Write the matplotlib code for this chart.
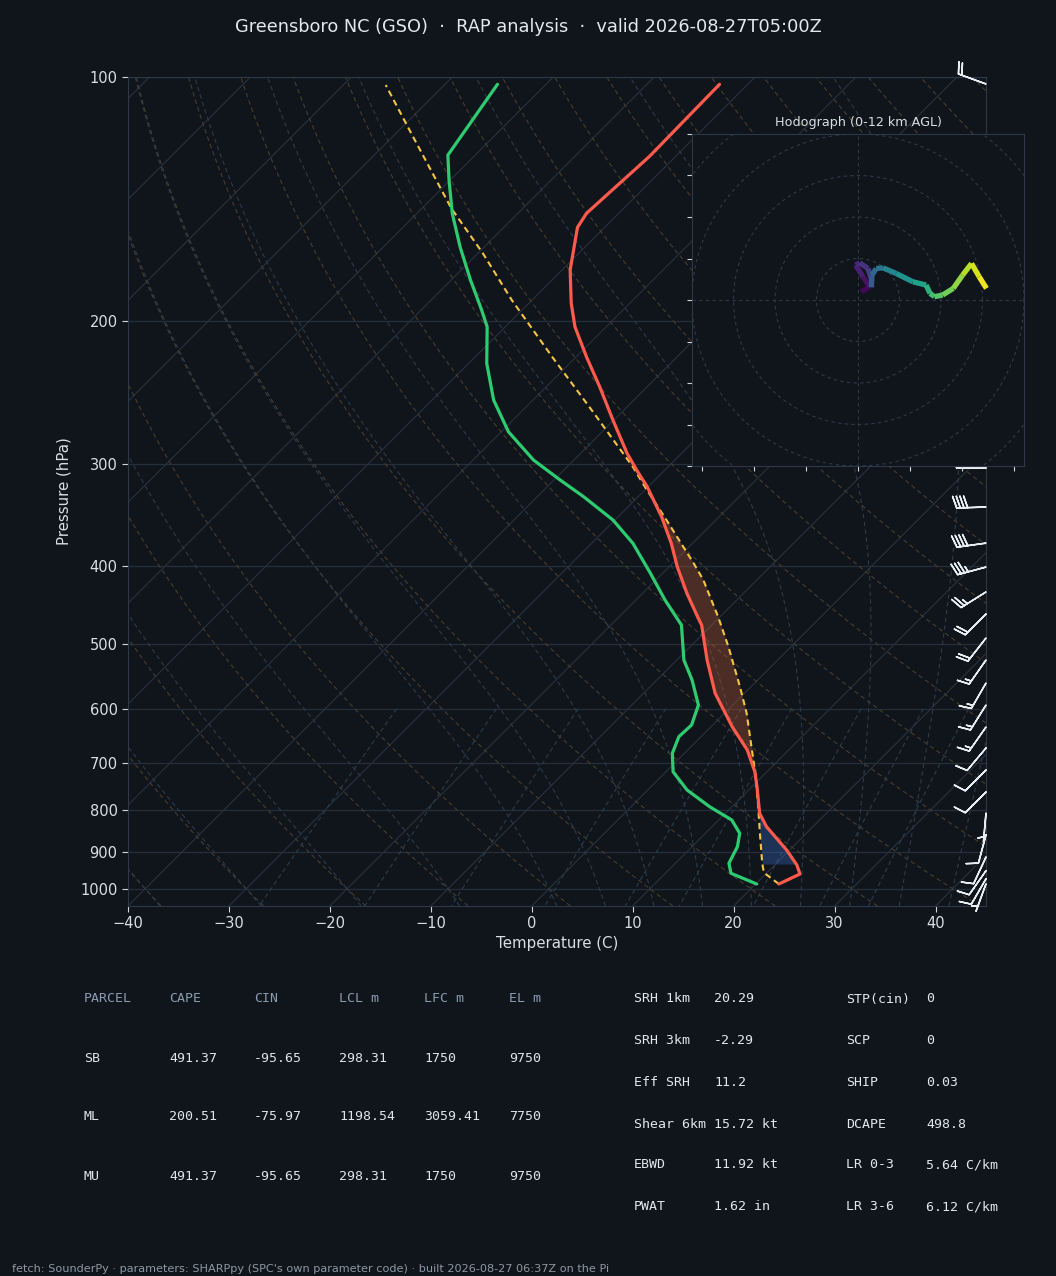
import numpy as np
import matplotlib
matplotlib.use("Agg")
import matplotlib.pyplot as plt
from matplotlib.collections import LineCollection
from matplotlib.ticker import FixedLocator, NullLocator, FixedFormatter

# ---------------- sounding values ----------------
p_temp = [986.5, 958.9, 934.7, 895.8, 838.5, 807.4, 748.7, 717.5, 674.6, 631.5,
          574.4, 522.6, 473.3, 464.3, 432.6, 401.1, 375.4, 348.1, 319.7, 304.9,
          290.8, 264.6, 240.8, 221.1, 203.1, 190.0, 172.9, 153.2, 147.2, 125.2, 102.1]
t_temp = [22.3, 23.4, 22.2, 19.7, 15.4, 13.4, 10.5, 8.8, 5.9, 2.1,
          -2.9, -7.0, -11.0, -12.0, -15.6, -19.2, -22.1, -25.7, -30.1, -32.8,
          -35.4, -40.1, -44.7, -49.0, -53.1, -55.8, -59.2, -62.7, -63.2, -62.6, -62.8]

p_dwpt = [986.5, 957.0, 930.2, 887.5, 854.4, 822.8, 792.4, 755.7, 717.5, 680.9,
          649.6, 628.4, 593.8, 553.2, 522.6, 473.3, 440.9, 408.7, 375.4, 351.3,
          328.9, 313.6, 296.4, 273.5, 250.0, 225.4, 203.1, 193.7, 177.8, 161.9,
          147.2, 134.0, 124.8, 102.1]
t_dwpt = [20.1, 16.5, 15.3, 14.5, 13.4, 11.3, 7.8, 3.9, 0.7, -1.2,
          -2.2, -2.1, -3.4, -6.5, -9.3, -13.0, -17.1, -21.2, -25.9, -30.2,
          -35.4, -39.4, -44.0, -49.3, -53.9, -58.2, -61.8, -64.0, -68.1, -72.4,
          -76.5, -80.1, -82.7, -84.8]

p_parcel = [986.5, 955.4, 930.2, 854.4, 792.4, 720.7, 607.9, 563.7, 503.3, 462.2,
            416.5, 397.3, 351.3, 322.7, 302.1, 257.2, 221.1, 188.3, 164.9, 145.1,
            118.4, 102.3]
t_parcel = [22.3, 19.7, 18.6, 15.4, 12.6, 9.0, 2.2, -1.1, -6.2, -10.2,
            -15.3, -17.9, -24.9, -29.8, -33.5, -43.2, -52.4, -62.0, -69.5, -77.1,
            -88.0, -95.8]

# wind barbs (direction deg, speed kt)
p_barb = [986, 972, 950, 914, 858, 806.5, 759.9, 714.0, 670.7, 632.0, 593.8, 557.9,
          522.6, 491.0, 458.7, 430.9, 401.5, 375.1, 338.6, 303.2,
          280, 250, 220, 190, 160, 130, 102]
wdir = [200, 210, 215, 205, 195, 185, 225, 225, 220, 215, 212, 210,
        215, 218, 225, 238, 255, 262, 268, 270,
        265, 260, 265, 265, 270, 275, 290]
wspd = [5, 10, 10, 10, 10, 5, 10, 10, 10, 15, 15, 15,
        15, 20, 20, 25, 35, 40, 40, 35,
        35, 35, 35, 35, 35, 30, 20]

# hodograph (kt) and height (km AGL)
hodo_u = [0.8, 2.8, 1.2, -0.56, 0.4, 2.4, 3.2, 3.2, 3.36, 4.4, 6.0, 9.2, 13.2,
          16.4, 17.36, 18.4, 20.4, 22.96, 25.2, 27.36, 29.2, 30.96]
hodo_v = [2.0, 3.2, 5.6, 8.4, 8.96, 7.6, 5.2, 3.2, 6.0, 7.6, 7.76, 6.4, 4.4,
          3.6, 1.6, 0.8, 1.2, 2.8, 6.0, 8.8, 5.6, 2.8]
hodo_z = [0.0, 0.3, 0.8, 1.2, 1.5, 1.9, 2.5, 3.0, 3.6, 4.3, 5.0, 5.8, 6.6,
          7.3, 8.0, 8.6, 9.1, 9.7, 10.3, 11.0, 11.5, 12.0]

# parameter tables
tbl_head = ["PARCEL", "CAPE", "CIN", "LCL m", "LFC m", "EL m"]
parcels = ["SB", "ML", "MU"]
cape = [491.37, 200.51, 491.37]
cin = [-95.65, -75.97, -95.65]
lcl_m = [298.31, 1198.54, 298.31]
lfc_m = [1750, 3059.41, 1750]
el_m = [9750, 7750, 9750]

par_names1 = ["SRH 1km", "SRH 3km", "Eff SRH", "Shear 6km", "EBWD", "PWAT"]
par_vals1 = ["20.29", "-2.29", "11.2", "15.72 kt", "11.92 kt", "1.62 in"]
par_names2 = ["STP(cin)", "SCP", "SHIP", "DCAPE", "LR 0-3", "LR 3-6"]
par_vals2 = ["0", "0", "0.03", "498.8", "5.64 C/km", "6.12 C/km"]

p_ticks = [100, 200, 300, 400, 500, 600, 700, 800, 900, 1000]
t_ticks = [-40, -30, -20, -10, 0, 10, 20, 30, 40]

# ---------------- style ----------------
BG = "#10151c"
SPINE = "#2e3947"
TXT = "#d9dee4"
W, H = 1056, 1276
P_BOT, P_TOP = 1050.0, 100.0
T_MIN, T_MAX = -40.0, 45.0
AX_PX = (128, 77, 986, 906)  # left, top, right, bottom

plt.rcParams['font.family'] = ['DejaVu Sans']

fig = plt.figure(figsize=(W / 100, H / 100), dpi=100, facecolor=BG)
ax = fig.add_axes([AX_PX[0] / W, 1 - AX_PX[3] / H, (AX_PX[2] - AX_PX[0]) / W,
                   (AX_PX[3] - AX_PX[1]) / H], facecolor=BG)

# 45 degree skew in display space
K = ((AX_PX[3] - AX_PX[1]) / (AX_PX[2] - AX_PX[0])) * (T_MAX - T_MIN) / np.log(P_BOT / P_TOP)


def skx(t, p):
    return np.asarray(t) + K * np.log(P_BOT / np.asarray(p))


ax.set_yscale('log')
ax.set_xlim(T_MIN, T_MAX)
ax.set_ylim(P_BOT, P_TOP)

# ---- background lines ----
pl = np.geomspace(P_BOT, P_TOP, 120)
for t in np.arange(-140, 50, 10):
    ax.plot(skx(t, pl), pl, color="#28323e", lw=0.8, zorder=1)

for t0 in np.arange(-40, 246, 10):
    tk = (t0 + 273.15) * (pl / 1000.0) ** 0.2857 - 273.15
    ax.plot(skx(tk, pl), pl, color="#483d2e", lw=0.8, ls=(0, (4, 3)), zorder=1)

Rd, Cp, Lv, EPS = 287.04, 1005.7, 2.501e6, 0.622


def moist_rate(tk, p):
    es = 6.112 * np.exp(17.67 * (tk - 273.15) / (tk - 29.65))
    rs = EPS * es / (p - es)
    return (Rd * tk + Lv * rs) / (Cp + Lv * Lv * rs * EPS / (Rd * tk * tk))


def integrate(tk, plev):
    out = [tk]
    for p1, p2 in zip(plev[:-1], plev[1:]):
        h = np.log(p2) - np.log(p1)
        pm = np.exp(np.log(p1) + h / 2)
        k1 = moist_rate(tk, p1)
        k2 = moist_rate(tk + h / 2 * k1, pm)
        k3 = moist_rate(tk + h / 2 * k2, pm)
        k4 = moist_rate(tk + h * k3, p2)
        tk = tk + h / 6 * (k1 + 2 * k2 + 2 * k3 + k4)
        out.append(tk)
    return np.array(out)


up = np.geomspace(1000, P_TOP, 150)
dn = np.geomspace(1000, P_BOT, 6)
for t0 in np.concatenate((np.arange(-40, 0, 10), np.arange(0, 46, 5))):
    tk0 = t0 + 273.15
    tu = integrate(tk0, up)
    td = integrate(tk0, dn)
    pp = np.concatenate((dn[::-1], up[1:]))
    tt = np.concatenate((td[::-1], tu[1:])) - 273.15
    ax.plot(skx(tt, pp), pp, color="#2c3a4a", lw=0.8, ls=(0, (4, 3)), zorder=1)

pm_ = np.linspace(600, P_BOT, 40)
for w in [0.0004, 0.001, 0.002, 0.004, 0.007, 0.01, 0.016, 0.024, 0.032]:
    e = pm_ * w / (EPS + w)
    lg = np.log(e / 6.112)
    td = 243.5 * lg / (17.67 - lg)
    ax.plot(skx(td, pm_), pm_, color="#2a3d4b", lw=0.8, ls=(0, (4, 3)), zorder=1)

ax.yaxis.grid(True, color="#252e39", lw=0.9, zorder=0)
ax.set_axisbelow(True)

# ---- CAPE / CIN shading ----
pg = np.geomspace(986.5, 102.5, 800)
tt_g = np.interp(-np.log(pg), -np.log(p_temp), t_temp)
tp_g = np.interp(-np.log(pg), -np.log(p_parcel), t_parcel)
ax.fill_betweenx(pg, skx(tt_g, pg), skx(tp_g, pg),
                 where=(tp_g > tt_g) & (pg > 295) & (pg < 790),
                 interpolate=True, color="#c8623c", alpha=0.32, lw=0, zorder=2)
ax.fill_betweenx(pg, skx(tt_g, pg), skx(tp_g, pg),
                 where=(tp_g < tt_g) & (pg <= 934.7) & (pg > 780),
                 interpolate=True, color="#3a6bc4", alpha=0.35, lw=0, zorder=2)

# ---- profiles ----
ax.plot(skx(t_temp, p_temp), p_temp, color="#ff5a4c", lw=2.3, zorder=4,
        solid_capstyle='round')
ax.plot(skx(t_dwpt, p_dwpt), p_dwpt, color="#2ecc71", lw=2.3, zorder=4,
        solid_capstyle='round')
ax.plot(skx(t_parcel, p_parcel), p_parcel, color="#f4c542", lw=1.5,
        ls=(0, (3, 2)), zorder=3)

# ---- wind barbs on right edge ----
wd = np.radians(wdir)
ub = -np.array(wspd) * np.sin(wd)
vb = -np.array(wspd) * np.cos(wd)
ax.barbs(np.full(len(p_barb), T_MAX), p_barb, ub, vb, length=6.5,
         color="#e8edf2", linewidth=1.1, clip_on=False, zorder=6)

# ---- axes styling ----
ax.yaxis.set_major_locator(FixedLocator(p_ticks))
ax.yaxis.set_major_formatter(FixedFormatter([str(p) for p in p_ticks]))
ax.yaxis.set_minor_locator(NullLocator())
ax.xaxis.set_major_locator(FixedLocator(t_ticks))
for s in ax.spines.values():
    s.set_color(SPINE)
ax.tick_params(colors="#cfd5dc", labelcolor=TXT, labelsize=10.5, length=4)
ax.set_xlabel("Temperature (C)", color=TXT, fontsize=10.8, labelpad=3)
ax.set_ylabel("Pressure (hPa)", color=TXT, fontsize=10.8, labelpad=6)

# ---- hodograph inset ----
hx = fig.add_axes([692 / W, 1 - 466 / H, 332 / W, 332 / H], facecolor=BG)
hx.set_zorder(5)
hx.set_xlim(-40, 40)
hx.set_ylim(-40, 40)
hx.set_aspect('equal')
ang = np.linspace(0, 2 * np.pi, 200)
for r in range(10, 60, 10):
    hx.plot(r * np.cos(ang), r * np.sin(ang), color="#2e3947", lw=0.8,
            ls=(0, (3, 3)), zorder=1)
hx.axhline(0, color="#2e3947", lw=0.8, ls=(0, (3, 3)), zorder=1)
hx.axvline(0, color="#2e3947", lw=0.8, ls=(0, (3, 3)), zorder=1)
pts = np.column_stack([hodo_u, hodo_v])
segs = np.stack([pts[:-1], pts[1:]], axis=1)
zmid = 0.5 * (np.array(hodo_z[:-1]) + np.array(hodo_z[1:]))
lc = LineCollection(segs, cmap='viridis', linewidths=3.8, zorder=3)
lc.set_array(zmid)
lc.set_clim(0, 12)
hx.add_collection(lc)
hx.set_xticks(np.arange(-37.5, 40, 12.5))
hx.set_yticks(np.arange(-40, 41, 10))
hx.tick_params(colors="#cfd5dc", labelleft=False, labelbottom=False, length=3.5)
for s in hx.spines.values():
    s.set_color(SPINE)
hx.set_title("Hodograph (0-12 km AGL)", color=TXT, fontsize=9.2, pad=6)

# ---- title ----
fig.text(0.5, 1 - 27 / H,
         "Greensboro NC (GSO)  \u00b7  RAP analysis  \u00b7  valid 2026-08-27T05:00Z",
         ha='center', va='center', color="#e4e8ed", fontsize=12.8)

# ---- parameter tables ----
mono = dict(family='DejaVu Sans Mono', fontsize=9.5, va='center')
col_x = [84, 169, 254, 339, 424, 509]
for cx, h in zip(col_x, tbl_head):
    fig.text(cx / W, 1 - 999 / H, h, color="#8a9bb0", **mono)
rows = zip(parcels, cape, cin, lcl_m, lfc_m, el_m)
for ry, row in zip([1058, 1117, 1176], rows):
    cells = [row[0]] + [f"{v:g}" for v in row[1:]]
    for cx, c in zip(col_x, cells):
        fig.text(cx / W, 1 - ry / H, c, color="#dfe4ea", **mono)

row_y = [999, 1041, 1082, 1124, 1165, 1207]
for ry, n1, v1, n2, v2 in zip(row_y, par_names1, par_vals1, par_names2, par_vals2):
    fig.text(634 / W, 1 - ry / H, n1, color="#e3e7ec", **mono)
    fig.text(714 / W, 1 - ry / H, v1, color="#e3e7ec", **mono)
    fig.text(846 / W, 1 - ry / H, n2, color="#e3e7ec", **mono)
    fig.text(926 / W, 1 - ry / H, v2, color="#e3e7ec", **mono)

fig.text(12 / W, 1 - 1269 / H,
         "fetch: SounderPy \u00b7 parameters: SHARPpy (SPC's own parameter code) "
         "\u00b7 built 2026-08-27 06:37Z on the Pi",
         ha='left', va='center', color="#8c98a5", fontsize=8.1)

fig.savefig("out.png", dpi=100, facecolor=BG)
